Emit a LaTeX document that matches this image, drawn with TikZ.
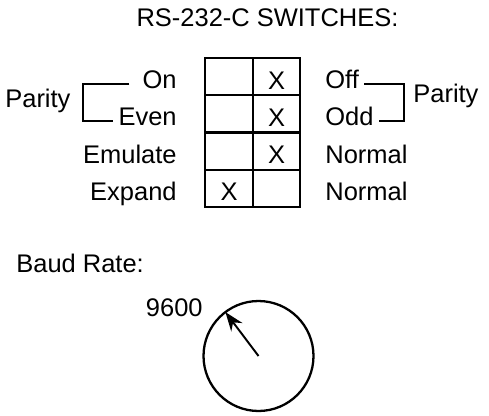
\documentclass[tikz,border=0pt]{standalone}
\usepackage{fontspec}
\setmainfont{Liberation Sans}
\usetikzlibrary{positioning,arrows.meta}

\begin{document}
\begin{tikzpicture}[
  x=0.02cm, y=-0.02cm,
  % Node Styles
  lbl/.style={inner sep=0pt, font=\fontsize{14.5}{17}\selectfont},
  cell/.style={rectangle, draw, line width=1.2pt, minimum width=0.95cm, minimum height=0.745cm, inner sep=0pt, outer sep=0pt, text height=0.5cm, text depth=0pt, font=\fontsize{14.5}{17}\selectfont},
  dialnode/.style={circle, draw, line width=1.3pt, minimum size=2.2cm, inner sep=0pt, outer sep=0pt},
  % Line Styles
  brace/.style={line width=1.1pt},
  pointer/.style={-{Stealth[length=0.38cm, width=0.28cm]}, line width=1.1pt},
]
\useasboundingbox (0,0) rectangle (489,415);

% Title
\node[lbl, anchor=base] (title) at (267.5,27) {RS-232-C SWITCHES:};

% Switch grid
\foreach \lt/\rt [count=\r] in {{}/X,{}/X,{}/X,X/{}} {
  \node[cell] (l\r) at (229,{39.4+37.25*\r}) {\lt};
  \node[cell, right=0pt of l\r] (r\r) {\rt};
}

% Left labels
\node[lbl, anchor=base east] (on) at (177,89) {On};
\node[lbl, anchor=base east] (even) at (177,126) {Even};
\node[lbl, anchor=base east] (emulate) at (177,163) {Emulate};
\node[lbl, anchor=base east] (expand) at (177,200) {Expand};
\node[lbl, anchor=base west] (parityl) at (5,108) {Parity};

% Right labels
\node[lbl, anchor=base west] (off) at (325,89) {Off};
\node[lbl, anchor=base west] (odd) at (325,126) {Odd};
\node[lbl, anchor=base west] (normala) at (325,163) {Normal};
\node[lbl, anchor=base west] (normalb) at (325,200) {Normal};
\node[lbl, anchor=base west] (parityr) at (413,103) {Parity};

% Brackets
\draw[brace] ([xshift=-0.26cm]on.mid west) -| ([xshift=-0.7cm]even.mid west) -- ([xshift=-0.1cm]even.mid west);
\draw[brace] ([xshift=0.1cm]off.mid east) -| ([xshift=0.6cm]odd.mid east) -- ([xshift=0.1cm]odd.mid east);

% Baud rate dial
\node[lbl, anchor=base west] (baud) at (16,272) {Baud Rate:};
\node[dialnode] (dial) at (258.5,356) {};
\node[lbl, anchor=base east] (rate) at (203,316) {9600};
\draw[pointer] (dial.center) -- (dial.127);

\end{tikzpicture}
\end{document}
